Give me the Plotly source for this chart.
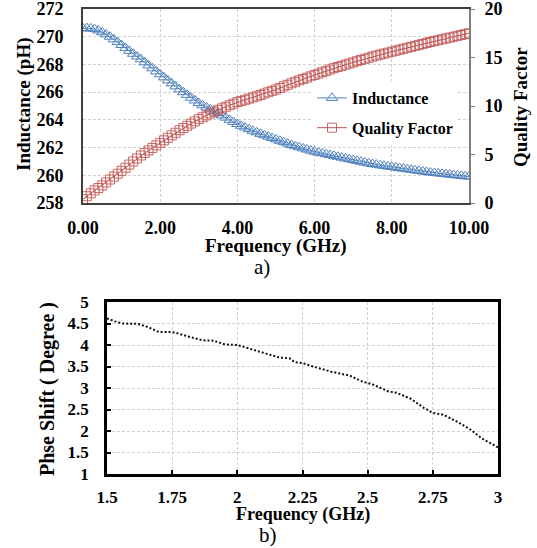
import plotly.graph_objects as go

W, H = 537, 548

# ---------------- data: chart a) ----------------
freq_a = [round(i * 0.1, 1) for i in range(101)]
inductance = [
    270.60, 270.62, 270.60, 270.55, 270.45, 270.32, 270.17, 270.00, 269.81, 269.61,
    269.40, 269.19, 268.98, 268.77, 268.57, 268.37, 268.15, 267.93, 267.72, 267.50,
    267.29, 267.07, 266.85, 266.63, 266.42, 266.20, 266.00, 265.80, 265.60, 265.40,
    265.21, 265.05, 264.90, 264.76, 264.62, 264.48, 264.32, 264.16, 264.00, 263.85,
    263.70, 263.57, 263.45, 263.33, 263.21, 263.10, 262.99, 262.89, 262.79, 262.69,
    262.59, 262.49, 262.39, 262.29, 262.19, 262.10, 262.02, 261.94, 261.86, 261.78,
    261.70, 261.64, 261.58, 261.52, 261.46, 261.40, 261.34, 261.28, 261.22, 261.16,
    261.10, 261.04, 260.98, 260.92, 260.86, 260.81, 260.77, 260.72, 260.68, 260.64,
    260.60, 260.56, 260.52, 260.48, 260.44, 260.40, 260.36, 260.32, 260.28, 260.24,
    260.20, 260.17, 260.14, 260.11, 260.08, 260.05, 260.02, 259.99, 259.96, 259.93,
    259.90,
]
quality = [
    0.40, 0.70, 1.00, 1.30, 1.55, 1.82, 2.12, 2.42, 2.72, 3.02,
    3.32, 3.64, 3.96, 4.28, 4.59, 4.90, 5.16, 5.42, 5.68, 5.94,
    6.20, 6.46, 6.72, 6.98, 7.24, 7.50, 7.73, 7.96, 8.19, 8.42,
    8.65, 8.84, 9.03, 9.22, 9.41, 9.60, 9.76, 9.92, 10.08, 10.24,
    10.40, 10.52, 10.64, 10.76, 10.88, 11.00, 11.14, 11.28, 11.42, 11.56,
    11.70, 11.86, 12.02, 12.18, 12.34, 12.50, 12.64, 12.78, 12.92, 13.06,
    13.20, 13.34, 13.48, 13.62, 13.76, 13.90, 14.02, 14.14, 14.26, 14.38,
    14.50, 14.62, 14.74, 14.86, 14.98, 15.10, 15.20, 15.30, 15.40, 15.50,
    15.60, 15.70, 15.80, 15.90, 16.00, 16.10, 16.20, 16.30, 16.40, 16.50,
    16.60, 16.69, 16.78, 16.87, 16.96, 17.05, 17.14, 17.23, 17.32, 17.41,
    17.50,
]
xa_ticks = [0, 2, 4, 6, 8, 10]
xa_ticktext = ["0.00", "2.00", "4.00", "6.00", "8.00", "10.00"]
ya_ticks = [258, 260, 262, 264, 266, 268, 270, 272]
y2a_ticks = [0, 5, 10, 15, 20]

# ---------------- data: chart b) ----------------
freq_b = [1.50, 1.53, 1.56, 1.60, 1.62, 1.66, 1.70, 1.74, 1.76, 1.81, 1.865, 1.91,
          1.955, 2.00, 2.06, 2.11, 2.16, 2.20, 2.22, 2.25, 2.29, 2.36, 2.43, 2.48,
          2.52, 2.58, 2.61, 2.665, 2.715, 2.75, 2.79, 2.845, 2.895, 2.935, 2.97, 3.00]
phase = [4.62, 4.55, 4.50, 4.50, 4.49, 4.41, 4.30, 4.30, 4.29, 4.20, 4.11, 4.10,
         4.01, 4.00, 3.90, 3.80, 3.71, 3.69, 3.60, 3.58, 3.50, 3.38, 3.29, 3.15,
         3.08, 2.92, 2.89, 2.75, 2.54, 2.42, 2.38, 2.21, 2.03, 1.84, 1.72, 1.62]
xb_ticks = [1.5, 1.75, 2, 2.25, 2.5, 2.75, 3]
xb_ticktext = ["1.5", "1.75", "2", "2.25", "2.5", "2.75", "3"]
yb_ticks = [1, 1.5, 2, 2.5, 3, 3.5, 4, 4.5, 5]
yb_ticktext = ["1", "1.5", "2", "2.5", "3", "3.5", "4", "4.5", "5"]

FONT = "Liberation Serif"
BLUE = "#4F81BD"
RED = "#C0504D"
GRID = "#d0d0d0"


def px_x(p):
    return p / W


def px_y(p):
    return 1 - p / H


def b(t):
    return "<b>" + str(t) + "</b>"


fig = go.Figure()

fig.add_trace(go.Scatter(
    x=freq_a, y=inductance, name=b("Inductance"), mode="lines+markers",
    line=dict(color=BLUE, width=1),
    marker=dict(symbol="triangle-up-open", size=10, color=BLUE, line=dict(width=1, color=BLUE)),
    xaxis="x", yaxis="y", legendgroup="a",
))
fig.add_trace(go.Scatter(
    x=freq_a, y=quality, name=b("Quality Factor"), mode="lines+markers",
    line=dict(color=RED, width=1),
    marker=dict(symbol="square-open", size=9, color="rgba(192,80,77,0.85)",
                line=dict(width=1, color="rgba(192,80,77,0.85)")),
    xaxis="x", yaxis="y2", legendgroup="b",
))
fig.add_trace(go.Scatter(
    x=freq_b, y=phase, mode="lines", showlegend=False,
    line=dict(color="#111111", width=2, dash="2px,2px"),
    xaxis="x2", yaxis="y3",
))

tick_a = dict(family=FONT, size=18, color="black")
tick_b = dict(family=FONT, size=17, color="black")
common = dict(automargin=False, zeroline=False, ticklabeloverflow="allow")

fig.update_layout(
    width=W, height=H,
    margin=dict(l=0, r=0, t=0, b=0, autoexpand=False),
    paper_bgcolor="white", plot_bgcolor="white",
    font=dict(family=FONT, color="black"),
    xaxis=dict(
        domain=[px_x(83), px_x(469)], range=[0, 10], anchor="y",
        tickvals=xa_ticks, ticktext=[b(t) for t in xa_ticktext], tickfont=tick_a,
        showline=True, linecolor="#404040", linewidth=2, mirror=True,
        showgrid=True, gridcolor=GRID, griddash="3px,2px", gridwidth=1,
        ticks="", ticklabelstandoff=7, **common,
    ),
    yaxis=dict(
        domain=[px_y(203), px_y(9)], range=[258, 272], anchor="x",
        tickvals=ya_ticks, ticktext=[b(t) for t in ya_ticks], tickfont=tick_a,
        showline=True, linecolor="#404040", linewidth=2, mirror=True,
        showgrid=True, gridcolor=GRID, griddash="3px,2px", gridwidth=1,
        ticks="", ticklabelstandoff=14, **common,
    ),
    yaxis2=dict(
        range=[0, 20], overlaying="y", side="right", anchor="x",
        tickvals=y2a_ticks, ticktext=[b(t) for t in y2a_ticks], tickfont=tick_a,
        showline=True, linecolor="#7f7f7f", linewidth=2,
        showgrid=False,
        ticks="outside", ticklen=4, tickcolor="#7f7f7f", tickwidth=1,
        ticklabelstandoff=6, **common,
    ),
    xaxis2=dict(
        domain=[px_x(107), px_x(498)], range=[1.5, 3], anchor="y3",
        tickvals=xb_ticks, ticktext=[b(t) for t in xb_ticktext], tickfont=tick_b,
        showline=True, linecolor="black", linewidth=2.5, mirror=True,
        showgrid=True, gridcolor=GRID, griddash="3px,2px", gridwidth=1,
        ticks="inside", ticklen=4, tickwidth=2, tickcolor="black",
        ticklabelstandoff=6, **common,
    ),
    yaxis3=dict(
        domain=[px_y(474), px_y(302)], range=[1, 5], anchor="x2",
        tickvals=yb_ticks, ticktext=[b(t) for t in yb_ticktext], tickfont=tick_b,
        showline=True, linecolor="black", linewidth=2.5, mirror=True,
        showgrid=True, gridcolor=GRID, griddash="3px,2px", gridwidth=1,
        ticks="inside", ticklen=4, tickwidth=2, tickcolor="black",
        ticklabelstandoff=12, **common,
    ),
    legend=dict(
        x=px_x(312), y=px_y(81), xanchor="left", yanchor="top",
        bgcolor="white", borderwidth=0,
        font=dict(family=FONT, size=16, color="black"),
        traceorder="grouped", tracegroupgap=6, itemwidth=30,
    ),
)

annots = [
    dict(text="Inductance (pH)", x=24, y=104, angle=-90, size=19, bold=True),
    dict(text="Quality Factor", x=520, y=107, angle=-90, size=19, bold=True),
    dict(text="Frequency (GHz)", x=276, y=246, angle=0, size=19, bold=True),
    dict(text="a)", x=262, y=267, angle=0, size=21, bold=False),
    dict(text="Phse Shift ( Degree )", x=47, y=389, angle=-90, size=20, bold=True),
    dict(text="Frequency (GHz)", x=303, y=514, angle=0, size=18, bold=True),
    dict(text="b)", x=268, y=535, angle=0, size=21, bold=False),
]
for a in annots:
    fig.add_annotation(
        text=b(a["text"]) if a["bold"] else a["text"],
        x=px_x(a["x"]), y=px_y(a["y"]), xref="paper", yref="paper",
        xanchor="center", yanchor="middle", textangle=a["angle"], showarrow=False,
        font=dict(family=FONT, size=a["size"], color="black"),
    )

fig.write_html("out.html")
